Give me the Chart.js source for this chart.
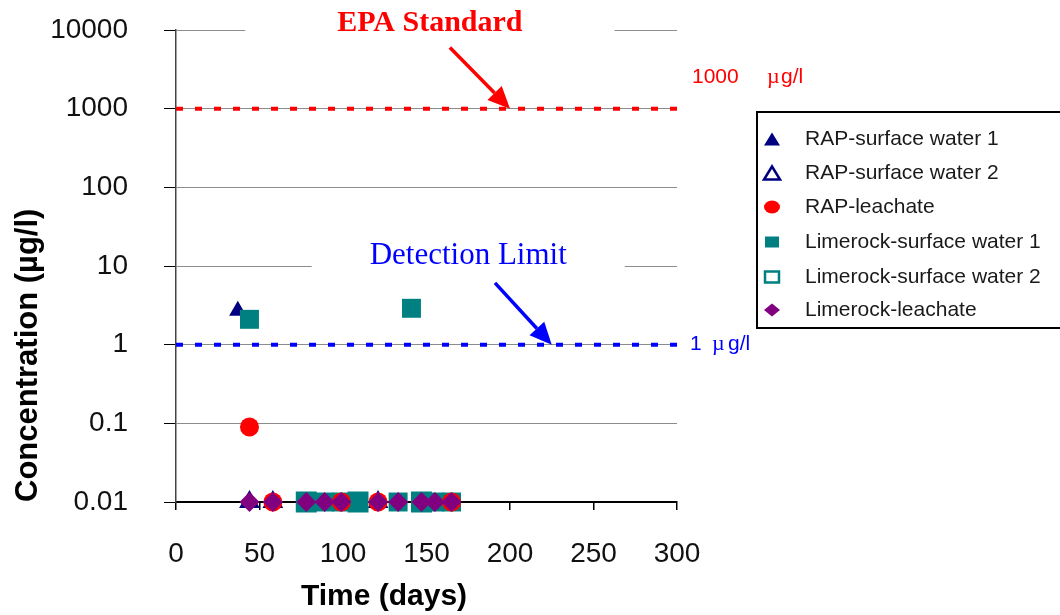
<!DOCTYPE html>
<html>
<head>
<meta charset="utf-8">
<script src="https://cdn.jsdelivr.net/npm/chart.js@4.4.0/dist/chart.umd.min.js"></script>
<style>
  html, body { margin: 0; padding: 0; background: #fff; }
  #caixa { width: 1060px; height: 615px; }
</style>
</head>
<body>
<div id="caixa"><canvas id="grafico" width="1060" height="615"></canvas></div>
<script>
// eixos
const xTicks = [0, 50, 100, 150, 200, 250, 300];
const yTicks = [0.01, 0.1, 1, 10, 100, 1000, 10000];
const yTickLabels = ['0.01', '0.1', '1', '10', '100', '1000', '10000'];

// séries (dias, concentração em µg/l)
const rapSw1Days = [37, 44, 58, 121];
const rapSw1Conc = [2.7, 0.01, 0.01, 0.01];
const rapSw2Days = [44, 58, 121];
const rapSw2Conc = [0.01, 0.01, 0.01];
const rapLeachDays = [44, 58, 99, 121, 165];
const rapLeachConc = [0.09, 0.01, 0.01, 0.01, 0.01];
const limeSw1Days = [44, 141, 78, 89, 99, 109, 133, 147, 155, 165];
const limeSw1Conc = [2.1, 2.9, 0.01, 0.01, 0.01, 0.01, 0.01, 0.01, 0.01, 0.01];
const limeSw2Days = [78, 109, 147];
const limeSw2Conc = [0.01, 0.01, 0.01];
const limeLeachDays = [44, 58, 78, 89, 99, 121, 133, 147, 155, 165];
const limeLeachConc = [0.01, 0.01, 0.01, 0.01, 0.01, 0.01, 0.01, 0.01, 0.01, 0.01];

// linhas de referência
const epaDays = [0, 300];
const epaConc = [1000, 1000];
const detDays = [0, 300];
const detConc = [1, 1];

// anotações (posições em unidades de dados)
const epaText = 'EPA Standard';
const epaTextAt = [152, 12300];
const epaArrow = [[164, 6000], [200, 1000]];
const detText = 'Detection Limit';
const detTextAt = [175, 13.4];
const detArrow = [[191, 6.1], [225, 1]];

const pontos = (dias, conc) => dias.map((d, i) => ({ x: d, y: conc[i] }));

const series = [
    { label: 'RAP-surface water 1', data: pontos(rapSw1Days, rapSw1Conc), pointStyle: 'triangle',
      pointRadius: 10, pointBackgroundColor: '#000080', pointBorderColor: '#000080', pointBorderWidth: 0, order: 5 },
    { label: 'RAP-surface water 2', data: pontos(rapSw2Days, rapSw2Conc), pointStyle: 'triangle',
      pointRadius: 10, pointBackgroundColor: '#ffffff', pointBorderColor: '#000080', pointBorderWidth: 2, order: 6 },
    { label: 'RAP-leachate', data: pontos(rapLeachDays, rapLeachConc), pointStyle: 'circle',
      pointRadius: 9.5, pointBackgroundColor: '#ff0000', pointBorderColor: '#ff0000', pointBorderWidth: 0, order: 2 },
    { label: 'Limerock-surface water 1', data: pontos(limeSw1Days, limeSw1Conc), pointStyle: 'rect',
      pointRadius: 13.4, pointBackgroundColor: '#008080', pointBorderColor: '#008080', pointBorderWidth: 0, order: 3 },
    { label: 'Limerock-surface water 2', data: pontos(limeSw2Days, limeSw2Conc), pointStyle: 'rect',
      pointRadius: 13.4, pointBackgroundColor: '#ffffff', pointBorderColor: '#008080', pointBorderWidth: 2, order: 4 },
    { label: 'Limerock-leachate', data: pontos(limeLeachDays, limeLeachConc), pointStyle: 'rectRot',
      pointRadius: 10, pointBackgroundColor: '#800080', pointBorderColor: '#800080', pointBorderWidth: 0, order: 1 }
];
series.forEach(s => { s.showLine = false; s.clip = false; s.pointHoverRadius = s.pointRadius; });

const linhas = [
    { label: 'EPA', data: pontos(epaDays, epaConc), showLine: true, borderColor: '#ff0000', borderWidth: 4,
      borderDash: [7, 12], pointRadius: 0, order: 10 },
    { label: 'DL', data: pontos(detDays, detConc), showLine: true, borderColor: '#0000ff', borderWidth: 4,
      borderDash: [7, 12], pointRadius: 0, order: 10 }
];

function seta(ctx, x0, y0, x1, y1, cor) {
    const ang = Math.atan2(y1 - y0, x1 - x0);
    const cab = 22, meia = 10;
    const bx = x1 - cab * Math.cos(ang), by = y1 - cab * Math.sin(ang);
    ctx.strokeStyle = cor;
    ctx.fillStyle = cor;
    ctx.lineWidth = 3.5;
    ctx.beginPath();
    ctx.moveTo(x0, y0);
    ctx.lineTo(bx, by);
    ctx.stroke();
    ctx.beginPath();
    ctx.moveTo(x1, y1);
    ctx.lineTo(bx + meia * Math.sin(ang), by - meia * Math.cos(ang));
    ctx.lineTo(bx - meia * Math.sin(ang), by + meia * Math.cos(ang));
    ctx.closePath();
    ctx.fill();
}

function marcador(ctx, estilo, x, y, fundo, borda) {
    const w = 8, h = 6.5;
    ctx.save();
    ctx.fillStyle = fundo;
    ctx.strokeStyle = borda;
    ctx.lineWidth = 2.5;
    ctx.beginPath();
    if (estilo === 'triangle') {
        ctx.moveTo(x, y - h);
        ctx.lineTo(x + w, y + h);
        ctx.lineTo(x - w, y + h);
        ctx.closePath();
    } else if (estilo === 'circle') {
        ctx.ellipse(x, y, w, h, 0, 0, Math.PI * 2);
    } else if (estilo === 'rect') {
        ctx.rect(x - w + 1, y - h + 1, 2 * w - 2, 2 * h - 2);
    } else {
        ctx.moveTo(x - w, y);
        ctx.lineTo(x, y - h);
        ctx.lineTo(x + w, y);
        ctx.lineTo(x, y + h);
        ctx.closePath();
    }
    ctx.fill();
    if (fundo === '#ffffff') ctx.stroke();
    ctx.restore();
}

const extras = {
    id: 'extras',
    beforeDatasetsDraw(chart) {
        const { ctx, scales: { x, y } } = chart;
        ctx.save();
        ctx.fillStyle = '#ffffff';
        // buracos nas linhas de grade atrás dos textos
        ctx.font = 'bold 30px "Liberation Serif"';
        let w = ctx.measureText(epaText).width;
        let cx = x.getPixelForValue(epaTextAt[0]);
        ctx.fillRect(cx - w / 2 - 92, y.getPixelForValue(10000) - 3, w + 184, 6);
        ctx.font = '31px "Liberation Serif"';
        w = ctx.measureText(detText).width;
        cx = x.getPixelForValue(detTextAt[0]);
        ctx.fillRect(cx - w / 2 - 58, y.getPixelForValue(10) - 3, w + 116, 6);
        ctx.restore();
    },
    afterDraw(chart) {
        const { ctx, chartArea, scales: { x, y } } = chart;
        ctx.save();
        ctx.textBaseline = 'middle';
        ctx.textAlign = 'center';

        // EPA
        ctx.fillStyle = '#ff0000';
        ctx.font = 'bold 30px "Liberation Serif"';
        ctx.fillText(epaText, x.getPixelForValue(epaTextAt[0]), y.getPixelForValue(epaTextAt[1]));
        seta(ctx, x.getPixelForValue(epaArrow[0][0]), y.getPixelForValue(epaArrow[0][1]),
             x.getPixelForValue(epaArrow[1][0]), y.getPixelForValue(epaArrow[1][1]), '#ff0000');

        // limite de detecção
        ctx.fillStyle = '#0000ff';
        ctx.font = '31px "Liberation Serif"';
        ctx.fillText(detText, x.getPixelForValue(detTextAt[0]), y.getPixelForValue(detTextAt[1]));
        seta(ctx, x.getPixelForValue(detArrow[0][0]), y.getPixelForValue(detArrow[0][1]),
             x.getPixelForValue(detArrow[1][0]), y.getPixelForValue(detArrow[1][1]), '#0000ff');

        // rótulos à direita
        ctx.textAlign = 'left';
        const r = chartArea.right;
        let yy = y.getPixelForValue(2500);
        ctx.fillStyle = '#ff0000';
        ctx.font = '21px "Liberation Sans"';
        ctx.fillText('1000', r + 15, yy);
        ctx.font = '22px "Liberation Serif"';
        ctx.fillText('µ', r + 90, yy);
        ctx.font = '21px "Liberation Sans"';
        ctx.fillText('g/l', r + 104, yy);
        yy = y.getPixelForValue(1);
        ctx.fillStyle = '#0000ff';
        ctx.fillText('1', r + 13, yy);
        ctx.font = '22px "Liberation Serif"';
        ctx.fillText('µ', r + 35, yy);
        ctx.font = '21px "Liberation Sans"';
        ctx.fillText('g/l', r + 51, yy);

        // título do eixo x
        ctx.fillStyle = '#000000';
        ctx.textAlign = 'center';
        ctx.font = 'bold 30px "Liberation Sans"';
        ctx.fillText('Time (days)', chartArea.left + 208, 597);

        // legenda
        const lx = 757, ly = 112;
        ctx.strokeStyle = '#000000';
        ctx.lineWidth = 2;
        ctx.strokeRect(lx, ly, 320, 216);
        const linhasY = [139, 173, 207, 242, 277, 310];
        ctx.font = '21px "Liberation Sans"';
        ctx.textAlign = 'left';
        series.forEach((s, i) => {
            marcador(ctx, s.pointStyle, lx + 15, linhasY[i], s.pointBackgroundColor, s.pointBorderColor);
            ctx.fillStyle = '#1a1a1a';
            ctx.fillText(s.label, lx + 48, linhasY[i]);
        });
        ctx.restore();
    }
};

const ctxGrafico = document.getElementById('grafico').getContext('2d');
const grafico = new Chart(ctxGrafico, {
    type: 'scatter',
    data: { datasets: [...series, ...linhas] },
    options: {
        responsive: false,
        animation: false,
        layout: { padding: { top: 30, right: 383, left: 0, bottom: 0 } },
        plugins: {
            legend: { display: false },
            tooltip: { enabled: false }
        },
        scales: {
            x: {
                type: 'linear',
                min: 0,
                max: 300,
                afterFit: (s) => { s.height = 113; },
                afterBuildTicks: (s) => { s.ticks = xTicks.map(v => ({ value: v })); },
                grid: { drawOnChartArea: false, drawTicks: true, tickLength: 8, tickColor: '#000', lineWidth: 1.5 },
                border: { color: '#000', width: 2 },
                ticks: {
                    padding: 27,
                    color: '#111',
                    font: { family: '"Liberation Sans", Arial', size: 28 },
                    maxRotation: 0
                }
            },
            y: {
                type: 'logarithmic',
                min: 0.01,
                max: 10000,
                afterFit: (s) => { s.width = 176; s.paddingTop = 0; s.paddingBottom = 0; },
                afterBuildTicks: (s) => { s.ticks = yTicks.map(v => ({ value: v })); },
                grid: { color: '#8c8c8c', lineWidth: 1, tickLength: 12, tickColor: '#000' },
                border: { color: '#444', width: 1.5 },
                ticks: {
                    padding: 36,
                    color: '#111',
                    font: { family: '"Liberation Sans", Arial', size: 28 },
                    callback: (v) => yTickLabels[yTicks.indexOf(v)]
                },
                title: {
                    display: true,
                    text: 'Concentration (µg/l)',
                    align: 'start',
                    color: '#000',
                    padding: { top: 10, bottom: 0 },
                    font: { family: '"Liberation Sans", Arial', size: 31, weight: 'bold' }
                }
            }
        }
    },
    plugins: [extras]
});
</script>
</body>
</html>
